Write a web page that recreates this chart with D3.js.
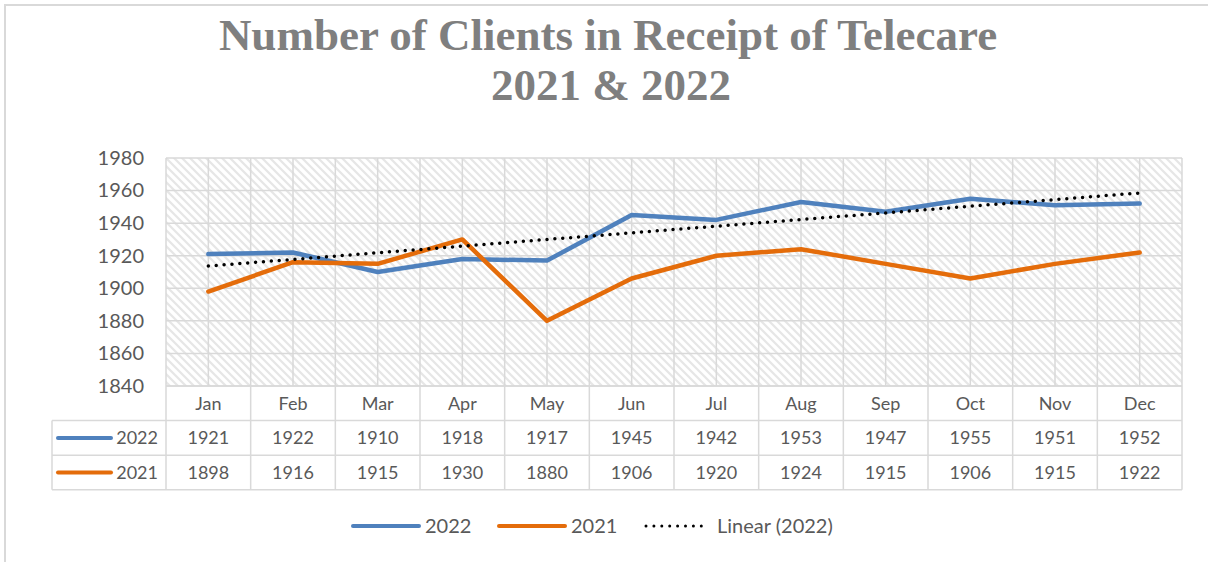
<!DOCTYPE html>
<html>
<head>
<meta charset="utf-8">
<script src="https://cdn.jsdelivr.net/npm/d3@7"></script>
<style>
  html, body { margin: 0; padding: 0; background: #fff; }
  svg { display: block; }
  text { font-family: Lato, "Open Sans", sans-serif; fill: #595959; }
  .title { font-family: "Liberation Serif", "DejaVu Serif", serif; font-weight: bold; fill: #7f7f7f; }
</style>
</head>
<body>
<svg id="chart" width="1208" height="562"></svg>
<script>
var months = ["Jan", "Feb", "Mar", "Apr", "May", "Jun", "Jul", "Aug", "Sep", "Oct", "Nov", "Dec"];
var values2022 = [1921, 1922, 1910, 1918, 1917, 1945, 1942, 1953, 1947, 1955, 1951, 1952];
var values2021 = [1898, 1916, 1915, 1930, 1880, 1906, 1920, 1924, 1915, 1906, 1915, 1922];
var yTicks = [1840, 1860, 1880, 1900, 1920, 1940, 1960, 1980];

var series = [
    {name: "2022", values: values2022, color: "#4f81bd"},
    {name: "2021", values: values2021, color: "#e46c0a"}
];

var plot = {left: 166, right: 1182, top: 158, bottom: 386},
    rowH = 34.6;

var svg = d3.select("#chart");

// chart area border (only top and left visible in the frame)
svg.append("path")
    .attr("d", "M5,570V5H1215")
    .attr("fill", "none")
    .attr("stroke", "#d9d9d9")
    .attr("stroke-width", 2);

// title
var title = svg.append("text")
    .attr("class", "title")
    .attr("text-anchor", "middle")
    .style("font-size", "45px");
title.append("tspan").attr("x", 608).attr("y", 50).text("Number of Clients in Receipt of Telecare");
title.append("tspan").attr("x", 611).attr("y", 100).text("2021 & 2022");

var x = d3.scaleBand()
    .domain(months)
    .range([plot.left, plot.right]);

var y = d3.scaleLinear()
    .domain([yTicks[0], yTicks[yTicks.length - 1]])
    .range([plot.bottom, plot.top]);

// hatched plot background
var defs = svg.append("defs");
var pat = defs.append("pattern")
    .attr("id", "hatch")
    .attr("patternUnits", "userSpaceOnUse")
    .attr("width", 8)
    .attr("height", 8);
pat.append("rect").attr("width", 8).attr("height", 8).attr("fill", "#fff");
pat.append("path")
    .attr("d", "M-2,-2L10,10M-2,6L2,10M6,-2L10,2")
    .attr("stroke", "#e6e6e6")
    .attr("stroke-width", 2.2);

svg.append("rect")
    .attr("x", plot.left)
    .attr("y", plot.top)
    .attr("width", plot.right - plot.left)
    .attr("height", plot.bottom - plot.top)
    .attr("fill", "url(#hatch)");

// gridlines
var grid = svg.append("g")
    .attr("stroke", "#d9d9d9")
    .attr("stroke-width", 1.5);

grid.selectAll(".hgrid")
    .data(yTicks)
    .enter().append("line")
    .attr("x1", plot.left).attr("x2", plot.right)
    .attr("y1", function(d) { return y(d); })
    .attr("y2", function(d) { return y(d); });

var vx = [];
months.forEach(function(m) {
    vx.push(x(m));
    vx.push(x(m) + x.bandwidth() / 2);
});
vx.push(plot.right);

grid.selectAll(".vgrid")
    .data(vx)
    .enter().append("line")
    .attr("x1", function(d) { return d; })
    .attr("x2", function(d) { return d; })
    .attr("y1", plot.top).attr("y2", plot.bottom);

// y axis labels
var yAxis = svg.append("g")
    .attr("transform", "translate(" + (plot.left - 22) + ",0)")
    .call(d3.axisLeft(y).tickValues(yTicks).tickSize(0).tickPadding(0).tickFormat(d3.format("d")));
yAxis.select(".domain").remove();
yAxis.selectAll("text")
    .style("font-size", "20px")
    .style("font-family", "Lato, sans-serif")
    .attr("fill", "#595959");

// trendline for 2022 (least squares)
var n = values2022.length,
    xs = d3.range(1, n + 1),
    mx = d3.mean(xs),
    my = d3.mean(values2022),
    slope = d3.sum(xs, function(v, i) { return (v - mx) * (values2022[i] - my); }) /
            d3.sum(xs, function(v) { return (v - mx) * (v - mx); }),
    intercept = my - slope * mx;

var cx = function(d, i) { return x(months[i]) + x.bandwidth() / 2; };

var line = d3.line()
    .x(cx)
    .y(function(d) { return y(d); });

series.forEach(function(s) {
    svg.append("path")
        .datum(s.values)
        .attr("fill", "none")
        .attr("stroke", s.color)
        .attr("stroke-width", 4.5)
        .attr("stroke-linejoin", "round")
        .attr("stroke-linecap", "round")
        .attr("d", line);
});

svg.append("path")
    .datum([intercept + slope * 1, intercept + slope * n])
    .attr("fill", "none")
    .attr("stroke", "#000")
    .attr("stroke-width", 3.5)
    .attr("stroke-linecap", "round")
    .attr("stroke-dasharray", "0 7.9")
    .attr("d", d3.line()
        .x(function(d, i) { return i === 0 ? x(months[0]) + x.bandwidth() / 2 : x(months[n - 1]) + x.bandwidth() / 2; })
        .y(function(d) { return y(d); }));

// data table
var table = svg.append("g")
    .attr("stroke", "#d9d9d9")
    .attr("stroke-width", 1.5);

var tTop = plot.bottom,
    tLeft = 52;

// horizontal lines
[tTop + rowH, tTop + 2 * rowH, tTop + 3 * rowH].forEach(function(ly) {
    table.append("line")
        .attr("x1", tLeft).attr("x2", plot.right)
        .attr("y1", ly).attr("y2", ly);
});
table.append("line")
    .attr("x1", plot.left).attr("x2", plot.right)
    .attr("y1", tTop).attr("y2", tTop);

// vertical lines
table.selectAll(".tv")
    .data(months.map(function(m) { return x(m); }).concat([plot.right]))
    .enter().append("line")
    .attr("x1", function(d) { return d; })
    .attr("x2", function(d) { return d; })
    .attr("y1", tTop).attr("y2", tTop + 3 * rowH);
table.append("line")
    .attr("x1", tLeft).attr("x2", tLeft)
    .attr("y1", tTop + rowH).attr("y2", tTop + 3 * rowH);

svg.append("g").selectAll("text")
    .data(months)
    .enter().append("text")
    .attr("x", function(d) { return x(d) + x.bandwidth() / 2; })
    .attr("y", tTop + rowH / 2)
    .attr("dy", "0.35em")
    .attr("text-anchor", "middle")
    .style("font-size", "18px")
    .text(function(d) { return d; });

series.forEach(function(s, si) {
    var ry = tTop + rowH * (si + 1) + rowH / 2;
    var row = svg.append("g");
    row.append("line")
        .attr("x1", 58).attr("x2", 111)
        .attr("y1", ry).attr("y2", ry)
        .attr("stroke", s.color)
        .attr("stroke-width", 4)
        .attr("stroke-linecap", "round");
    row.append("text")
        .attr("x", 158)
        .attr("y", ry)
        .attr("dy", "0.35em")
        .attr("text-anchor", "end")
        .style("font-size", "18px")
        .text(s.name);
    row.selectAll(".val")
        .data(s.values)
        .enter().append("text")
        .attr("x", cx)
        .attr("y", ry)
        .attr("dy", "0.35em")
        .attr("text-anchor", "middle")
        .style("font-size", "18px")
        .text(function(d) { return d; });
});

// legend
var legendY = 526;
var legend = svg.append("g");
var legendItems = [
    {label: "2022", color: "#4f81bd", x: 353, dotted: false},
    {label: "2021", color: "#e46c0a", x: 499, dotted: false},
    {label: "Linear (2022)", color: "#000", x: 645, dotted: true}
];
legendItems.forEach(function(d) {
    legend.append("line")
        .attr("x1", d.x + (d.dotted ? 1 : 0)).attr("x2", d.x + (d.dotted ? 64 : 66))
        .attr("y1", legendY).attr("y2", legendY)
        .attr("stroke", d.color)
        .attr("stroke-width", d.dotted ? 3 : 4)
        .attr("stroke-linecap", "round")
        .attr("stroke-dasharray", d.dotted ? "0 7.9" : null);
    legend.append("text")
        .attr("x", d.x + 72)
        .attr("y", legendY)
        .attr("dy", "0.35em")
        .style("font-size", "20px")
        .text(d.label);
});
</script>
</body>
</html>
